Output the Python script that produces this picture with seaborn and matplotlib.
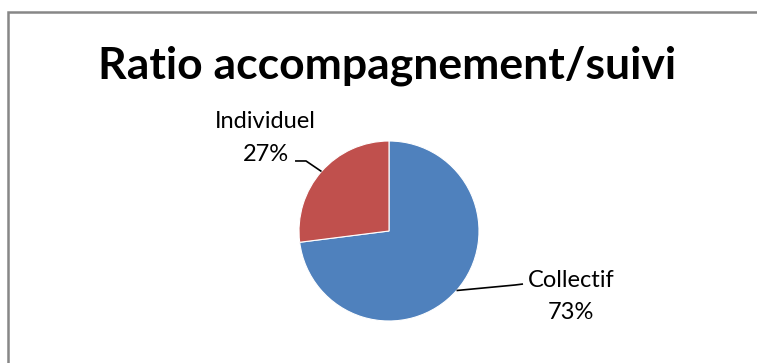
import numpy as np
import matplotlib
matplotlib.use("Agg")
import matplotlib.pyplot as plt
from matplotlib.patches import Rectangle
import seaborn as sns

# ---- data ----
categories = ["Collectif", "Individuel"]
values = [73, 27]
pct_labels = ["73%", "27%"]
colors = ["#4F81BD", "#C0504D"]
title = "Ratio accompagnement/suivi"

sns.set_theme(style="white")
plt.rcParams['font.family'] = ['Lato', 'DejaVu Sans']

W, H = 757, 363
fig = plt.figure(figsize=(W / 100, H / 100), dpi=100)
fig.patch.set_facecolor("white")

# frame (chart area border, clipped on the right/bottom)
fig.patches.append(Rectangle((8 / W, -0.2), 1.2, (H - 12) / H + 0.2,
                             transform=fig.transFigure, fill=False,
                             edgecolor="#878787", linewidth=1.8, zorder=0))

ax = fig.add_axes([0, 0, 1, 1])
R = 90.0  # pixels per unit radius
cx, cy = 389.0, 231.0

wedges, _ = ax.pie(values, colors=colors, startangle=90, counterclock=False,
                   radius=1.0, center=(0, 0), frame=True,
                   wedgeprops=dict(edgecolor="white", linewidth=0.8))
ax.set_xlim(-cx / R, (W - cx) / R)
ax.set_ylim(-(H - cy) / R, cy / R)
ax.axis("off")

# labels with leader lines (name line baseline, percent line baseline)
label_x = {"Collectif": 2.022, "Individuel": -1.372}
label_y = {"Collectif": (-0.622, -0.978), "Individuel": (1.144, 0.778)}
leader_pts = {"Collectif": [(1.40, -0.60), (1.489, -0.589)],
              "Individuel": [(-0.922, 0.778), (-1.044, 0.778)]}
for w, cat, pct in zip(wedges, categories, pct_labels):
    ang = np.deg2rad((w.theta1 + w.theta2) / 2)
    x0, y0 = np.cos(ang), np.sin(ang)
    pts = [(x0, y0)] + leader_pts[cat]
    ax.plot([p[0] for p in pts], [p[1] for p in pts], color="black", lw=1.2,
            solid_capstyle="butt")
    tx = label_x[cat]
    y1, y2 = label_y[cat]
    ax.text(tx, y1, cat, ha="center", va="baseline", fontsize=17, color="black")
    ax.text(tx, y2, pct, ha="center", va="baseline", fontsize=17, color="black")

fig.text(387.5 / W, 1 - 78 / H, title, ha="center", va="baseline",
         fontsize=32, fontweight="bold", color="black")

fig.savefig("out.png", dpi=100, facecolor="white")
